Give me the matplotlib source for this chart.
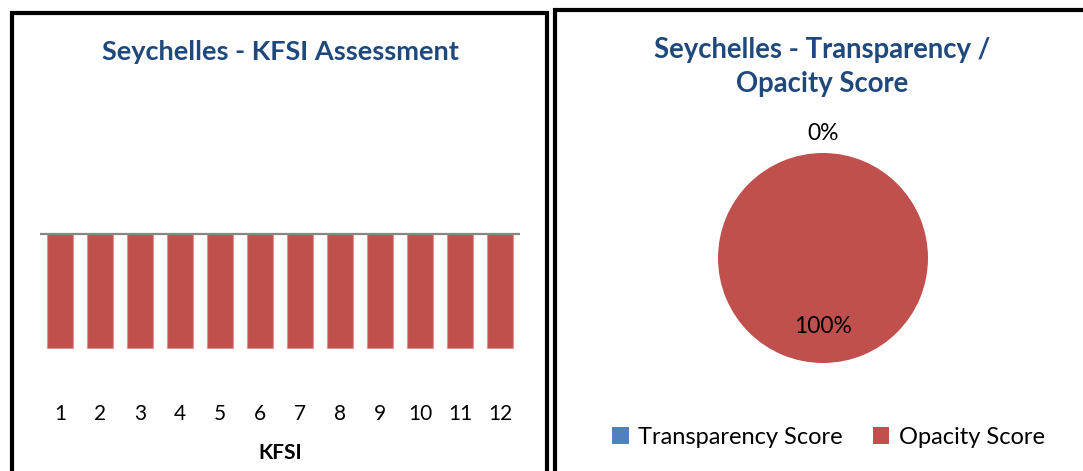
import matplotlib.pyplot as plt
from matplotlib.patches import Rectangle

# dados do grafico
kfsi = ['1', '2', '3', '4', '5', '6', '7', '8', '9', '10', '11', '12']
kfsi_valores = [-1, -1, -1, -1, -1, -1, -1, -1, -1, -1, -1, -1]
pie_rotulos = ['Transparency Score', 'Opacity Score']
pie_valores = [0, 100]

W, H = 1083, 471
azul_titulo = '#1F497D'
vermelho = '#C0504D'
azul = '#4F81BD'

plt.rcParams['font.family'] = ['Lato', 'DejaVu Sans']

fig = plt.figure(figsize=(W / 100, H / 100), dpi=100)

def caixa(x0, y0, x1, y1):
    # coordenadas em pixels (origem no topo)
    return [x0 / W, 1 - y1 / H, (x1 - x0) / W, (y1 - y0) / H]

# molduras dos dois paineis
fig.patches.append(Rectangle((12 / W, -0.1), (547.5 - 12) / W, 1.1 - 13 / H,
                             transform=fig.transFigure, fill=False,
                             edgecolor='black', linewidth=3))
fig.patches.append(Rectangle((555 / W, -0.1), 0.5, 1.1 - 10 / H,
                             transform=fig.transFigure, fill=False,
                             edgecolor='black', linewidth=3))

# grafico de barras
ax = fig.add_axes(caixa(40, 120, 520, 398))
x = list(range(1, len(kfsi) + 1))
ax.bar(x, kfsi_valores, width=0.65, color=vermelho, edgecolor='#D99694', linewidth=0.8)
ax.axhline(0, color='#868686', linewidth=1.6)
ax.set_xlim(0.5, 12.5)
ax.set_ylim(-(398 - 234) / 114, (234 - 120) / 114)
ax.set_xticks(x)
ax.set_xticklabels(kfsi, fontsize=15)
ax.tick_params(axis='x', length=0, pad=4)
ax.set_yticks([])
for s in ax.spines.values():
    s.set_visible(False)
ax.set_xlabel('KFSI', fontsize=15, fontweight='bold', labelpad=14)
fig.text(280 / W, 1 - 52 / H, 'Seychelles - KFSI Assessment', ha='center', va='center',
         fontsize=19.5, fontweight='bold', color=azul_titulo)

# grafico de pizza
r = 105
cx, cy = 823, 258
ax2 = fig.add_axes(caixa(cx - 1.25 * r, cy - 1.25 * r, cx + 1.25 * r, cy + 1.25 * r))
fatias, textos, pct = ax2.pie(pie_valores, colors=[azul, vermelho], startangle=90,
                              counterclock=False, autopct='%1.0f%%', pctdistance=0.65,
                              textprops={'fontsize': 16.5})
pct[0].set_position((0, 1.19))
ax2.set_xlim(-1.25, 1.25)
ax2.set_ylim(-1.25, 1.25)
ax2.set_aspect('equal')
fig.text(822 / W, 1 - 67 / H, 'Seychelles - Transparency /\nOpacity Score', ha='center',
         va='center', fontsize=19.8, fontweight='bold', color=azul_titulo, linespacing=1.42)
fig.legend(fatias, pie_rotulos, loc='center', bbox_to_anchor=(828.5 / W, 1 - 437 / H),
           ncol=2, frameon=False, fontsize=17, handlelength=0.7, handleheight=0.7,
           handletextpad=0.4, columnspacing=1.25)

plt.savefig('out.png', dpi=100)
